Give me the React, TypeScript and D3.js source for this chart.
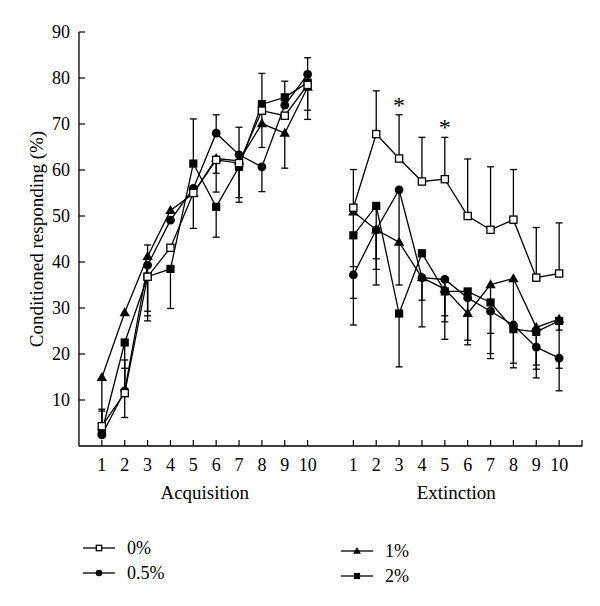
import React from 'react';
import * as d3 from 'd3';

// ---- data ----
const trials = [1, 2, 3, 4, 5, 6, 7, 8, 9, 10];
const yTicks = [10, 20, 30, 40, 50, 60, 70, 80, 90];
const seriesNames = ['0%', '0.5%', '1%', '2%'];
const seriesMarkers = ['openSquare', 'circle', 'triangle', 'square'];

const acq0 = [4.3, 11.5, 36.8, 43.1, 55.0, 62.2, 61.5, 72.9, 71.8, 78.5];
const acq05 = [2.4, 12.0, 39.3, 49.1, 56.0, 68.0, 63.3, 60.7, 74.1, 80.8];
const acq1 = [14.9, 29.0, 41.2, 51.2, 54.9, 62.5, 62.0, 70.1, 68.0, 78.0];
const acq2 = [3.1, 22.5, 36.8, 38.5, 61.4, 52.0, 60.7, 74.3, 75.8, 79.0];

const ext0 = [51.8, 67.8, 62.5, 57.5, 58.0, 50.0, 47.0, 49.2, 36.6, 37.5];
const ext05 = [37.2, 47.0, 55.7, 36.6, 36.2, 32.2, 29.3, 26.3, 21.5, 19.1];
const ext1 = [50.9, 47.0, 44.3, 36.6, 34.1, 28.8, 35.1, 36.4, 25.8, 27.6];
const ext2 = [45.8, 52.2, 28.8, 41.9, 33.6, 33.6, 31.2, 25.4, 24.8, 27.2];

// signed SEM: positive = bar drawn upward, negative = downward, 0 = none
const acqErr0 = [0, 5.4, -9.6, 0, 0, -7, -7.5, -8, 0, -5.5];
const acqErr05 = [5.6, 6.7, -10, 0, 0, 4, 6, -5.4, 0, 3.6];
const acqErr1 = [-12, 0, 2.5, 0, -7.6, -3.2, -9, 0, -7.6, -7];
const acqErr2 = [4.5, -16.3, -8.5, -8.6, 9.7, -6.6, 0, 6.7, 3.5, 0];

const extErr0 = [8.3, 9.4, 9.5, 9.6, 9.1, 12.4, 13.7, 10.9, 10.9, 11];
const extErr05 = [-10.9, -12, -20.7, -10.7, -13, -10.2, -10.3, 0, -6.7, -7.1];
const extErr1 = [-18.8, -8.6, 0, -4.9, -7.1, 0, -10.6, -18.4, -8.2, -10.7];
const extErr2 = [-6.8, -11.5, -11.6, 0, -5.3, -10.6, -11.1, -8.4, -8.1, -2];

const significantExt = [3, 5];

const acqValues = [acq0, acq05, acq1, acq2];
const extValues = [ext0, ext05, ext1, ext2];
const acqErrors = [acqErr0, acqErr05, acqErr1, acqErr2];
const extErrors = [extErr0, extErr05, extErr1, extErr2];

const FONT = "'Times New Roman', Times, 'Liberation Serif', 'DejaVu Serif', serif";
const txt = { fontFamily: FONT };

function Marker({ type, cx, cy, s = 1 }: { type: string; cx: number; cy: number; s?: number }) {
  if (type === 'openSquare') {
    const h = 3.6 * s;
    return <rect x={cx - h} y={cy - h} width={2 * h} height={2 * h} fill="#fff" stroke="#000" strokeWidth={1.3} />;
  }
  if (type === 'square') {
    const h = 4.1 * s;
    return <rect x={cx - h} y={cy - h} width={2 * h} height={2 * h} fill="#000" />;
  }
  if (type === 'circle') {
    return <circle cx={cx} cy={cy} r={4.4 * s} fill="#000" />;
  }
  const w = 5.2 * s;
  const ht = 9 * s;
  return (
    <path
      d={`M${cx},${cy - ht * 0.6}L${cx + w},${cy + ht * 0.4}L${cx - w},${cy + ht * 0.4}Z`}
      fill="#000"
    />
  );
}

export default function App() {
  const x = d3.scaleLinear().domain([0, 22]).range([79, 582]);
  const y = d3.scaleLinear().domain([0, 90]).range([446, 32]);
  const line = d3
    .line<[number, number]>()
    .x((d) => x(d[0]))
    .y((d) => y(d[1]));

  const acqX = (t: number) => t;
  const extX = (t: number) => t + 11;

  const phases = [
    { values: acqValues, errors: acqErrors, pos: acqX },
    { values: extValues, errors: extErrors, pos: extX },
  ];

  const xTickIdx = [...trials.map(acqX), ...trials.map(extX), 22];
  const drawOrder = [3, 2, 1, 0];

  return (
    <svg
      width={600}
      height={606}
      style={{ position: 'absolute', left: 0, top: 0, background: '#fff' }}
    >
      <rect width={600} height={606} fill="#fff" />
      {/* axes */}
      <line x1={x(0)} y1={y(90)} x2={x(0)} y2={y(0)} stroke="#000" strokeWidth={1.3} />
      <line x1={x(0)} y1={y(0)} x2={x(22)} y2={y(0)} stroke="#000" strokeWidth={1.3} />
      {yTicks.map((v) => (
        <g key={'yt' + v}>
          <line x1={x(0)} x2={x(0) + 6} y1={y(v)} y2={y(v)} stroke="#000" strokeWidth={1.2} />
          <text x={x(0) - 9} y={y(v)} dy="0.35em" textAnchor="end" fontSize={18} style={txt}>
            {v}
          </text>
        </g>
      ))}
      {xTickIdx.map((i) => (
        <line key={'xt' + i} x1={x(i)} x2={x(i)} y1={y(0)} y2={y(0) - 6} stroke="#000" strokeWidth={1.2} />
      ))}
      {trials.map((t) => (
        <g key={'xl' + t}>
          <text x={x(acqX(t))} y={471} textAnchor="middle" fontSize={18} style={txt}>
            {t}
          </text>
          <text x={x(extX(t))} y={471} textAnchor="middle" fontSize={18} style={txt}>
            {t}
          </text>
        </g>
      ))}
      <text x={(x(acqX(1)) + x(acqX(10))) / 2} y={499} textAnchor="middle" fontSize={19} style={txt}>
        Acquisition
      </text>
      <text x={(x(extX(1)) + x(extX(10))) / 2} y={499} textAnchor="middle" fontSize={19} style={txt}>
        Extinction
      </text>
      <text
        transform={`translate(36,${(y(0) + y(90)) / 2}) rotate(-90)`}
        textAnchor="middle"
        dominantBaseline="central"
        fontSize={19}
        style={txt}
      >
        Conditioned responding (%)
      </text>

      {/* lines */}
      {phases.map((ph, pi) =>
        drawOrder.map((si) => (
          <path
            key={`l${pi}-${si}`}
            d={line(trials.map((t, k) => [ph.pos(t), ph.values[si][k]]) as [number, number][]) || ''}
            fill="none"
            stroke="#000"
            strokeWidth={1.3}
          />
        ))
      )}
      {/* error bars */}
      {phases.map((ph, pi) =>
        drawOrder.map((si) =>
          trials.map((t, k) => {
            const e = ph.errors[si][k];
            if (!e) return null;
            const v = ph.values[si][k];
            const cx = x(ph.pos(t));
            const ye = y(v + e);
            return (
              <g key={`e${pi}-${si}-${k}`} stroke="#000" strokeWidth={1.3}>
                <line x1={cx} x2={cx} y1={y(v)} y2={ye} />
                <line x1={cx - 3.5} x2={cx + 3.5} y1={ye} y2={ye} />
              </g>
            );
          })
        )
      )}
      {/* markers */}
      {phases.map((ph, pi) =>
        drawOrder.map((si) =>
          trials.map((t, k) => (
            <Marker
              key={`m${pi}-${si}-${k}`}
              type={seriesMarkers[si]}
              cx={x(ph.pos(t))}
              cy={y(ph.values[si][k])}
            />
          ))
        )
      )}
      {/* significance */}
      {significantExt.map((t) => (
        <text
          key={'s' + t}
          x={x(extX(t))}
          y={y(ext0[t - 1] + extErr0[t - 1]) - 2}
          textAnchor="middle"
          fontSize={24}
          style={txt}
        >
          *
        </text>
      ))}

      {/* legend */}
      {seriesNames.map((name, i) => {
        const col = Math.floor(i / 2);
        const row = i % 2;
        const lx = col === 0 ? 83 : 341;
        const ly = (col === 0 ? 548 : 551) + row * 25;
        return (
          <g key={'lg' + i}>
            <line x1={lx} x2={lx + 32} y1={ly} y2={ly} stroke="#000" strokeWidth={1.3} />
            <Marker type={seriesMarkers[i]} cx={lx + 16} cy={ly} s={0.75} />
            <text x={lx + 44} y={ly} dy="0.35em" fontSize={18} style={txt}>
              {name}
            </text>
          </g>
        );
      })}
    </svg>
  );
}
